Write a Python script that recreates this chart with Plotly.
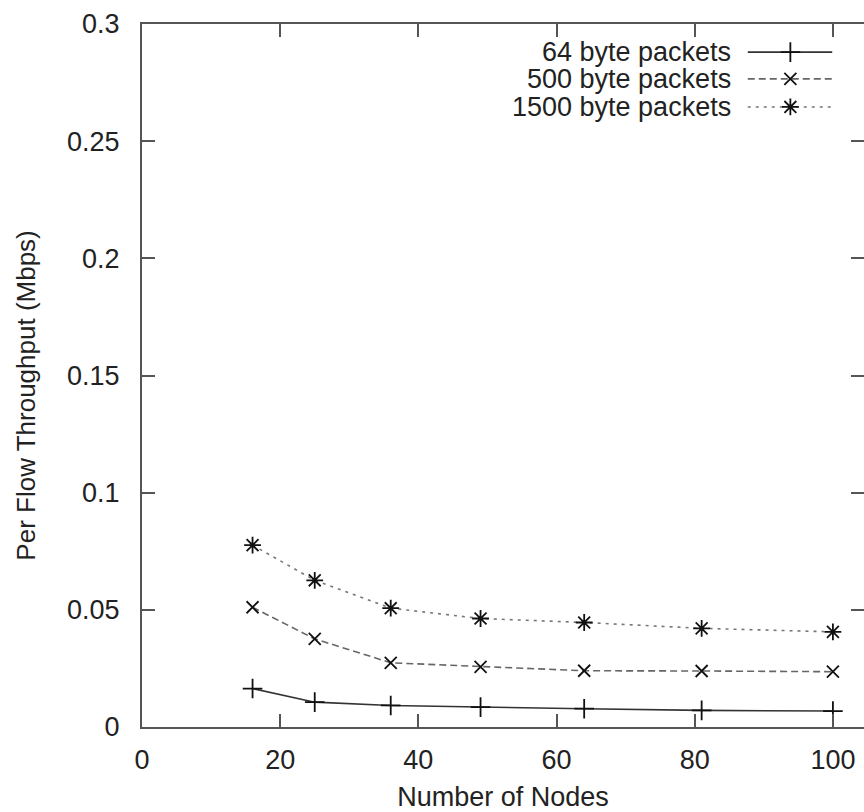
import plotly.graph_objects as go

# ---- data ----
nodes = [16, 25, 36, 49, 64, 81, 100]
tput_64 = [0.0164, 0.0106, 0.0092, 0.0085, 0.0078, 0.0071, 0.0068]
tput_500 = [0.0511, 0.0376, 0.0274, 0.0257, 0.0240, 0.0239, 0.0236]
tput_1500 = [0.0776, 0.0626, 0.0507, 0.0463, 0.0446, 0.0421, 0.0406]
series_names = ["64 byte packets", "500 byte packets", "1500 byte packets"]
x_ticks = [0, 20, 40, 60, 80, 100]
y_ticks = [0, 0.05, 0.1, 0.15, 0.2, 0.25, 0.3]
y_tick_labels = ["0", "0.05", "0.1", "0.15", "0.2", "0.25", "0.3"]

# ---- styles ----
FONT = "Liberation Sans, Arial, Helvetica, sans-serif"
AX = "#555555"
styles = [
    dict(color="#333333", dash="solid", symbol="cross-thin-open", size=14),
    dict(color="#666666", dash="7px,4px", symbol="x-thin-open", size=12),
    dict(color="#777777", dash="3px,5px", symbol="asterisk-open", size=14),
]
series = [tput_64, tput_500, tput_1500]

fig = go.Figure()
for vals, name, st in zip(series, series_names, styles):
    fig.add_trace(go.Scatter(
        x=nodes, y=vals, mode="lines+markers", name=name, showlegend=False,
        line=dict(color=st["color"], width=1.6, dash=st["dash"]),
        marker=dict(symbol=st["symbol"], size=st["size"],
                    line=dict(color="#111111", width=1.8), color="#111111"),
    ))

# ---- custom legend (text right-aligned, sample to the right) ----
leg_rows_paper_y = [0.960, 0.922, 0.882]
leg_text_x = 0.818
leg_sample = (0.839, 0.898, 0.956)  # paper x: start, marker, end
for i, (name, st) in enumerate(zip(series_names, styles)):
    yy = leg_rows_paper_y[i]
    fig.add_annotation(x=leg_text_x, y=yy, xref="paper", yref="paper",
                       text=name, showarrow=False, xanchor="right", yanchor="middle",
                       font=dict(family=FONT, size=27, color="#222222"))
    fig.add_trace(go.Scatter(
        x=[leg_sample[0], leg_sample[2]], y=[yy, yy], xaxis="x3", yaxis="y3",
        mode="lines", showlegend=False, hoverinfo="skip",
        line=dict(color=st["color"], width=1.6, dash=st["dash"]),
    ))
    fig.add_trace(go.Scatter(
        x=[leg_sample[1]], y=[yy], xaxis="x3", yaxis="y3",
        mode="markers", showlegend=False, hoverinfo="skip",
        marker=dict(symbol=st["symbol"], size=st["size"],
                    line=dict(color="#111111", width=1.8), color="#111111"),
    ))

fig.add_annotation(x=-0.160, y=0.472, xref="paper", yref="paper",
                   text="Per Flow Throughput (Mbps)", textangle=-90, showarrow=False,
                   xanchor="center", yanchor="middle",
                   font=dict(family=FONT, size=26, color="#222222"))

fig.update_layout(
    width=864, height=812,
    margin=dict(l=142, r=0, t=24, b=85),
    paper_bgcolor="white", plot_bgcolor="white",
    font=dict(family=FONT, size=27, color="#222222"),
    xaxis=dict(range=[0, 104.5], tickvals=x_ticks, ticks="inside", ticklen=13,
               tickwidth=1.6, tickcolor=AX, showline=True, linecolor=AX, linewidth=2,
               mirror="ticks", showgrid=False, zeroline=False,
               ticklabelstandoff=8,
               title=dict(text="Number of Nodes", standoff=16,
                          font=dict(family=FONT, size=27, color="#222222"))),
    yaxis=dict(range=[0, 0.3], tickvals=y_ticks, ticktext=y_tick_labels,
               ticks="inside", ticklen=13, tickwidth=1.6, tickcolor=AX,
               showline=True, linecolor=AX, linewidth=2, showgrid=False,
               zeroline=False, ticklabelstandoff=15),
    yaxis2=dict(range=[0, 0.3], tickvals=y_ticks, overlaying="y", side="right",
                ticks="inside", ticklen=13, tickwidth=1.6, tickcolor=AX,
                showticklabels=False, showline=False, showgrid=False, zeroline=False),
    xaxis3=dict(range=[0, 1], domain=[0, 1], overlaying="x", visible=False, fixedrange=True),
    yaxis3=dict(range=[0, 1], domain=[0, 1], overlaying="y", visible=False, fixedrange=True),
)
# dummy trace to activate the right-side tick axis
fig.add_trace(go.Scatter(x=[None], y=[None], yaxis="y2", showlegend=False, hoverinfo="skip"))

fig.write_html("out.html", config={"displayModeBar": False},
               post_script="document.body.style.margin='0';document.body.style.overflow='hidden';")
